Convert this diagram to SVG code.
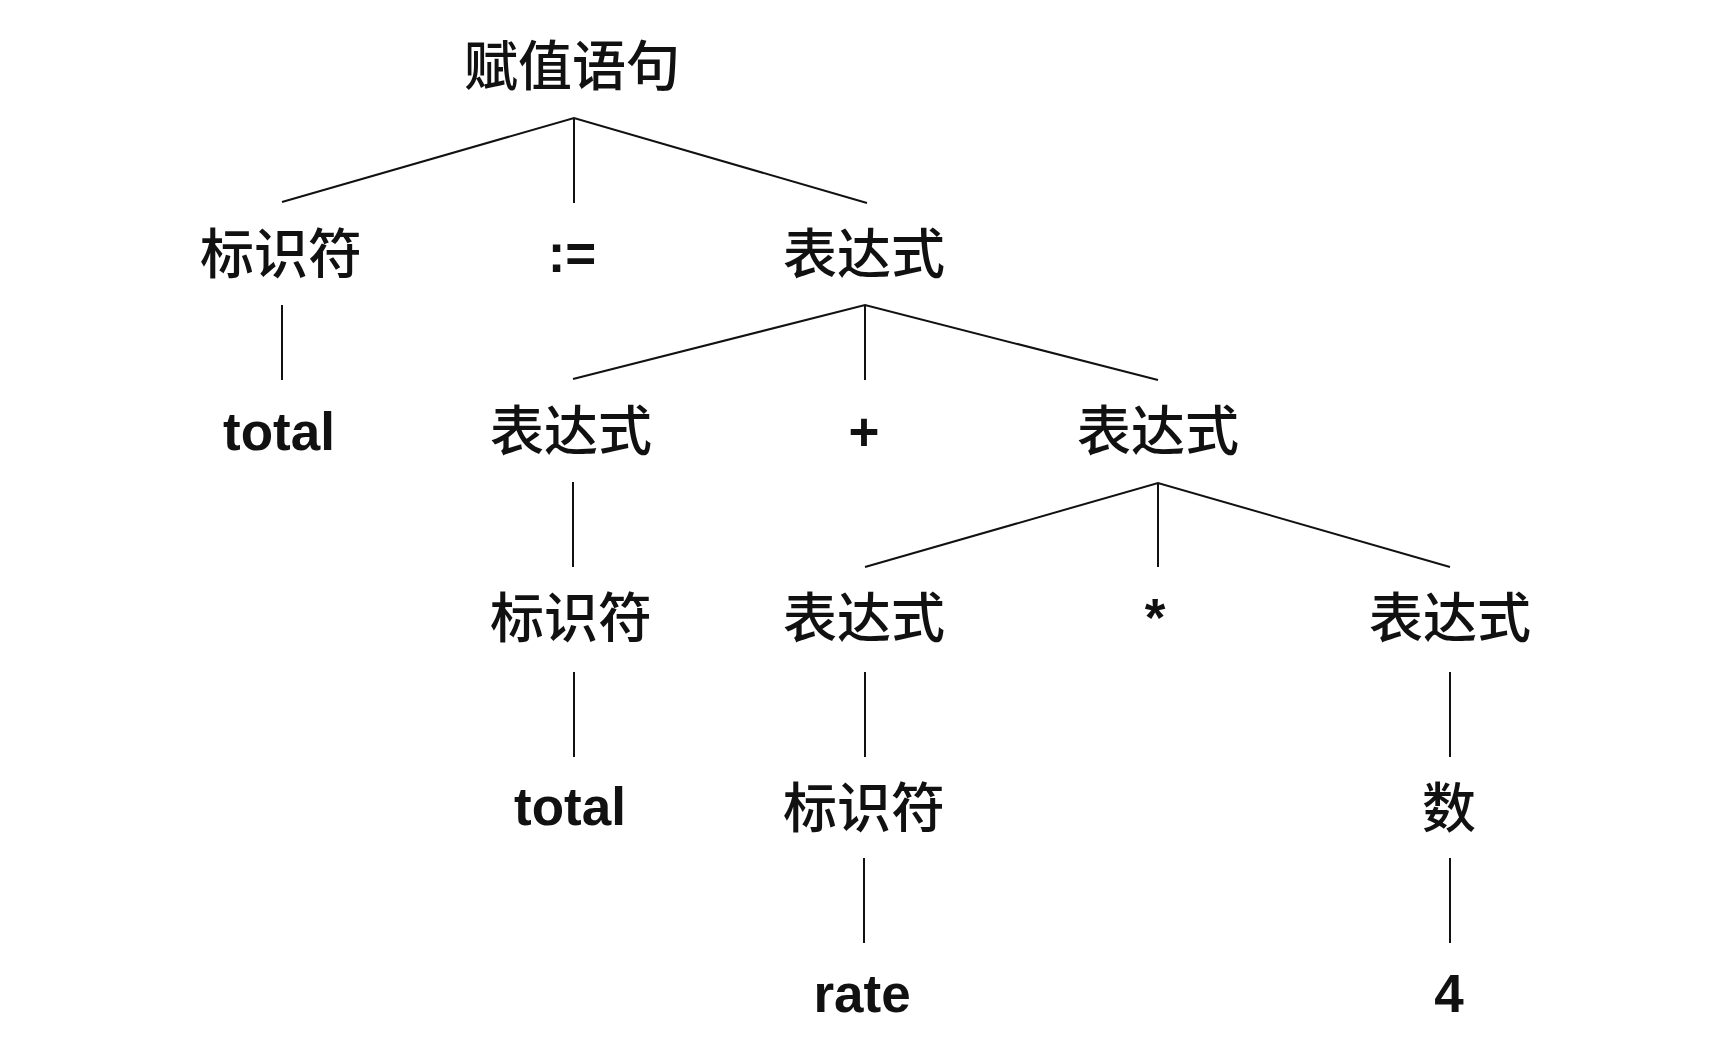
<svg xmlns="http://www.w3.org/2000/svg" width="1718" height="1052" viewBox="0 0 1718 1052">
<style>
.zh{font-family:"Noto Sans CJK SC","Noto Sans",sans-serif;font-size:54px;font-weight:500;fill:#111;text-anchor:middle}
.en{font-family:"Liberation Sans",Arial,sans-serif;font-weight:bold;font-size:53px;fill:#111;text-anchor:middle}
.ln{stroke:#111;stroke-width:2;fill:none}
</style>
<rect width="1718" height="1052" fill="#fff"/>
<g id="connectors" class="ln">
<path d="M282,202 L574,118 L867,203 M574,118 L574,203"/>
<path d="M282,305 L282,380"/>
<path d="M573,379 L865,305 L1158,380 M865,305 L865,380"/>
<path d="M573,482 L573,567"/>
<path d="M865,567 L1158,483 L1450,567 M1158,483 L1158,567"/>
<path d="M574,672 L574,757 M865,672 L865,757 M1450,672 L1450,757"/>
<path d="M864,858 L864,943 M1450,858 L1450,943"/>
</g>
<g id="n-root"><text class="zh" x="572" y="86">赋值语句</text></g>
<g id="n-id1"><text class="zh" x="281" y="274">标识符</text></g>
<g id="n-assign"><text class="en" x="572" y="272">:=</text></g>
<g id="n-expr1"><text class="zh" x="864" y="274">表达式</text></g>
<g id="n-total1"><text class="en" x="279" y="450">total</text></g>
<g id="n-expr2"><text class="zh" x="571" y="451">表达式</text></g>
<g id="n-plus"><text class="en" x="864" y="450">+</text></g>
<g id="n-expr3"><text class="zh" x="1158" y="451">表达式</text></g>
<g id="n-id2"><text class="zh" x="571" y="638">标识符</text></g>
<g id="n-expr4"><text class="zh" x="864" y="638">表达式</text></g>
<g id="n-mul"><text class="en" x="1155" y="636">*</text></g>
<g id="n-expr5"><text class="zh" x="1450" y="638">表达式</text></g>
<g id="n-total2"><text class="en" x="570" y="825">total</text></g>
<g id="n-id3"><text class="zh" x="864" y="828">标识符</text></g>
<g id="n-num"><text class="zh" x="1449" y="828">数</text></g>
<g id="n-rate"><text class="en" x="862" y="1012">rate</text></g>
<g id="n-four"><text class="en" x="1449" y="1012">4</text></g>
</svg>
